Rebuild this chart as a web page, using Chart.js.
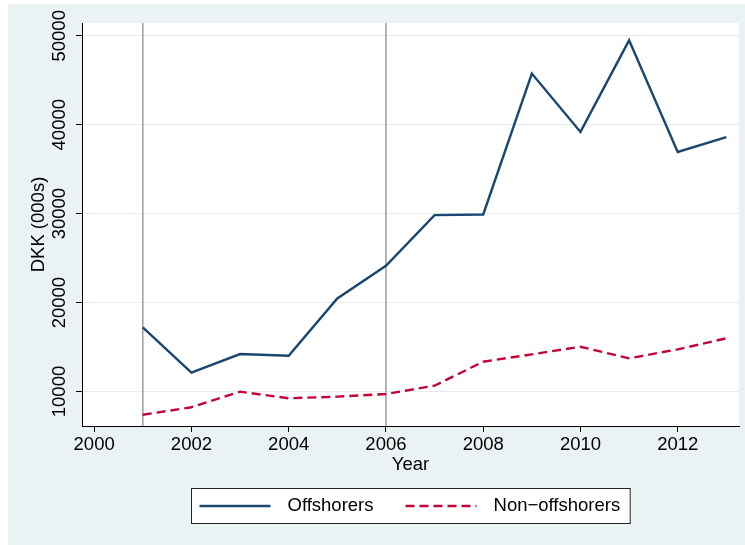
<!DOCTYPE html>
<html>
<head>
<meta charset="utf-8">
<script src="https://cdn.jsdelivr.net/npm/chart.js@4/dist/chart.umd.min.js"></script>
<style>
  html, body { margin: 0; padding: 0; background: #fff; }
  #wrap { position: absolute; left: 8px; top: 4px; width: 737px; height: 541px; background: #EAF2F3; }
</style>
</head>
<body>
<div id="wrap"><canvas id="chart" width="737" height="541"></canvas></div>
<script>
// data (DKK, thousands)
var years = [2001, 2002, 2003, 2004, 2005, 2006, 2007, 2008, 2009, 2010, 2011, 2012, 2013];
var offshorers = [17210, 12110, 14210, 14020, 20470, 24140, 29830, 29910, 45750, 39190, 49490, 36940, 38600];
var nonOffshorers = [7390, 8230, 9980, 9240, 9420, 9720, 10650, 13350, 14180, 15030, 13730, 14740, 15980];
var seriesNames = ['Offshorers', 'Non\u2212offshorers'];
var xTicks = [2000, 2002, 2004, 2006, 2008, 2010, 2012];
var yTicks = [10000, 20000, 30000, 40000, 50000];
var refYears = [2001, 2006];

var FONT = "'Liberation Sans', Arial, Helvetica, sans-serif";
var FS = 18.5;
var NAVY = '#1A476F';
var CRAN = '#C10534';

Chart.defaults.font.family = FONT;
Chart.defaults.font.size = FS;
Chart.defaults.font.lineHeight = 1;
Chart.defaults.color = '#000';

function pts(vals) {
    return years.map(function (y, i) { return { x: y, y: vals[i] }; });
}

// white plot region
var plotBg = {
    id: 'plotBg',
    beforeDraw: function (chart) {
        var a = chart.chartArea, ctx = chart.ctx;
        ctx.save();
        ctx.fillStyle = '#fff';
        ctx.fillRect(a.left, a.top, a.right - a.left, a.bottom - a.top);
        ctx.restore();
    }
};

// vertical reference lines
var refLines = {
    id: 'refLines',
    beforeDatasetsDraw: function (chart) {
        var a = chart.chartArea, ctx = chart.ctx, xs = chart.scales.x;
        ctx.save();
        ctx.strokeStyle = '#9c9c9c';
        ctx.lineWidth = 1.5;
        refYears.forEach(function (yr) {
            var px = xs.getPixelForValue(yr);
            ctx.beginPath();
            ctx.moveTo(px, a.top);
            ctx.lineTo(px, a.bottom);
            ctx.stroke();
        });
        ctx.restore();
    }
};

// boxed legend under the axis
var legendBox = {
    id: 'legendBox',
    afterDraw: function (chart) {
        var ctx = chart.ctx, a = chart.chartArea;
        var sets = chart.data.datasets;
        var sample = 71, gap = 17, itemGap = 32, padL = 8, padR = 10, h = 35;
        ctx.save();
        ctx.font = FS + 'px ' + FONT;
        var widths = sets.map(function (ds) { return ctx.measureText(ds.label).width; });
        var total = padL + padR + itemGap * (sets.length - 1);
        widths.forEach(function (w) { total += sample + gap + w; });
        var left = Math.round((a.left + a.right) / 2 - total / 2) + 0.5;
        var top = Math.round(chart.scales.x.bottom + 12) + 0.5;
        ctx.fillStyle = '#fff';
        ctx.fillRect(left, top, total, h);
        ctx.strokeStyle = '#222';
        ctx.lineWidth = 1;
        ctx.strokeRect(left, top, total, h);
        var mid = top + h / 2;
        var x = left + padL;
        sets.forEach(function (ds, i) {
            ctx.strokeStyle = ds.borderColor;
            ctx.lineWidth = ds.borderWidth;
            ctx.setLineDash(ds.borderDash || []);
            ctx.beginPath();
            ctx.moveTo(x, mid);
            ctx.lineTo(x + sample, mid);
            ctx.stroke();
            ctx.setLineDash([]);
            ctx.fillStyle = '#000';
            ctx.textBaseline = 'middle';
            ctx.textAlign = 'left';
            ctx.fillText(ds.label, x + sample + gap, mid);
            x += sample + gap + widths[i] + itemGap;
        });
        ctx.restore();
    }
};

new Chart(document.getElementById('chart'), {
    type: 'line',
    data: {
        datasets: [
            {
                label: seriesNames[0],
                data: pts(offshorers),
                borderColor: NAVY,
                borderWidth: 2.4,
                pointRadius: 0,
                tension: 0
            },
            {
                label: seriesNames[1],
                data: pts(nonOffshorers),
                borderColor: CRAN,
                borderWidth: 2.4,
                borderDash: [9, 5],
                pointRadius: 0,
                tension: 0
            }
        ]
    },
    options: {
        responsive: false,
        animation: false,
        layout: { padding: { left: 0, top: 19, right: 6, bottom: 69 } },
        plugins: {
            legend: { display: false },
            tooltip: { enabled: false }
        },
        scales: {
            x: {
                type: 'linear',
                min: 1999.75,
                max: 2013.26,
                afterBuildTicks: function (s) { s.ticks = xTicks.map(function (v) { return { value: v }; }); },
                afterFit: function (s) { s.height = 50; },
                ticks: {
                    autoSkip: false,
                    maxRotation: 0,
                    padding: 4,
                    callback: function (v) { return String(v); }
                },
                grid: { drawOnChartArea: false, tickLength: 6, tickColor: '#000' },
                border: { color: '#000', width: 1 },
                title: { display: true, text: 'Year', padding: { top: 0, bottom: 2 } }
            },
            y: {
                min: 6120,
                max: 51440,
                afterBuildTicks: function (s) { s.ticks = yTicks.map(function (v) { return { value: v }; }); },
                afterFit: function (s) { s.width = 74; },
                ticks: {
                    autoSkip: false,
                    minRotation: 90,
                    maxRotation: 90,
                    crossAlign: 'center',
                    padding: -9.2,
                    callback: function (v) { return String(v); }
                },
                grid: { color: '#E4ECEE', lineWidth: 1, tickLength: 6, tickColor: '#000' },
                border: { color: '#000', width: 1 },
                title: { display: true, text: 'DKK (000s)', padding: { top: 21.5, bottom: 0 } }
            }
        }
    },
    plugins: [plotBg, refLines, legendBox]
});
</script>
</body>
</html>
